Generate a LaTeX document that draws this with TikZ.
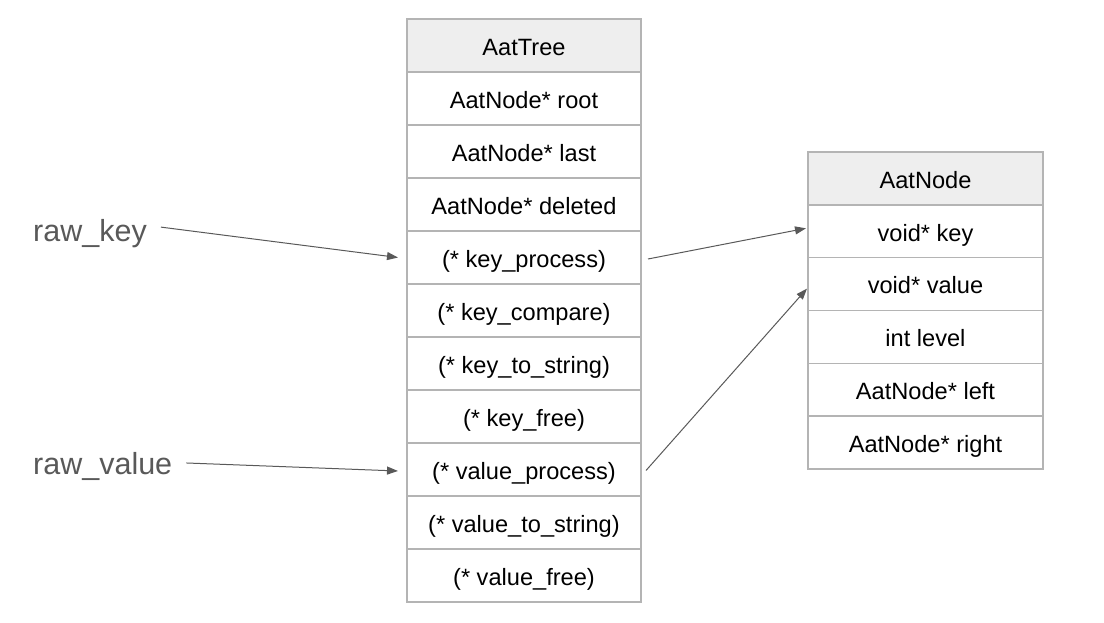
\documentclass[tikz,border=0pt]{standalone}
\usepackage{fontspec}
\setmainfont{Liberation Sans}
\usetikzlibrary{arrows.meta}
\definecolor{boxline}{HTML}{B4B4B4}
\definecolor{headfill}{HTML}{EEEEEE}
\definecolor{linkgray}{HTML}{595959}
\begin{document}
\begin{tikzpicture}[x=1pt,y=-1pt,
  field/.style={draw=boxline,line width=1.3pt,minimum height=53pt,inner sep=0pt,outer sep=0pt,text height=20pt,text depth=0.5pt,font=\fontsize{23.6}{27}\selectfont},
  header/.style={field,fill=headfill},
  inlabel/.style={text=linkgray,inner sep=0pt,font=\fontsize{30.5}{34}\selectfont},
  link/.style={draw=linkgray,line width=1pt,-{Triangle[length=11pt,width=8pt]}}]
\useasboundingbox (0,0) rectangle (1104,623);
%%% The struct AatTree and its fields
\node[header,minimum width=234pt] (t0) at (524,45.5) {AatTree};
\foreach \txt [count=\i] in {{AatNode* root},{AatNode* last},{AatNode* deleted},{(* key\_process)},{(* key\_compare)},{(* key\_to\_string)},{(* key\_free)},{(* value\_process)},{(* value\_to\_string)},{(* value\_free)}}
  \node[field,minimum width=234pt] (t\i) at (524,45.5+53*\i) {\txt};
%%% The struct AatNode
\node[header,minimum width=235pt] (n0) at (925.5,178.5) {AatNode};
\foreach \txt [count=\i] in {{void* key},{void* value},{int level},{AatNode* left},{AatNode* right}}
  \node[field,minimum width=235pt] (n\i) at (925.5,178.5+52.8*\i) {\txt};
%%% The raw inputs
\node[inlabel,anchor=base west] (rk) at (33,241) {raw\_key};
\node[inlabel,anchor=base west] (rv) at (33,474) {raw\_value};
\draw[link] ([xshift=14pt,yshift=6pt]rk.east) -- ([xshift=-9pt]t4.west);
\draw[link] ([xshift=14pt,yshift=3pt]rv.east) -- ([xshift=-9pt,yshift=-1.5pt]t8.west);
\draw[link] ([xshift=7pt,yshift=-1.5pt]t4.east) -- ([xshift=-2pt,yshift=3pt]n1.west);
\draw[link] ([xshift=5pt,yshift=-1pt]t8.east) -- ([xshift=-1pt,yshift=-4.5pt]n2.west);
\end{tikzpicture}
\end{document}
